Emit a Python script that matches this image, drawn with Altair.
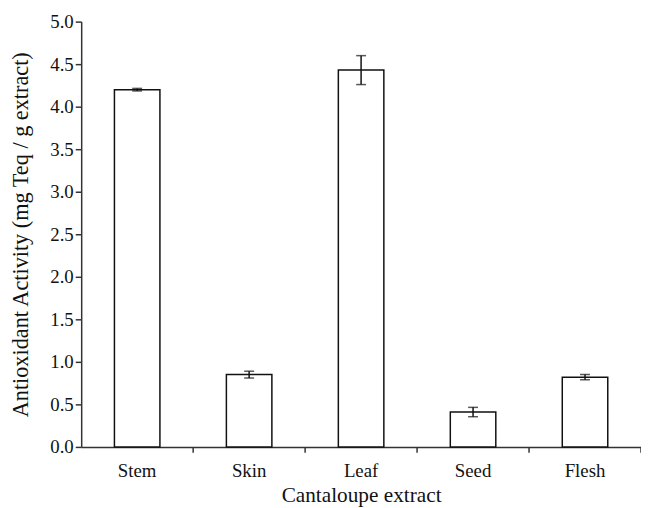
import altair as alt
import pandas as pd

categories = ["Stem", "Skin", "Leaf", "Seed", "Flesh"]
values = [4.20, 0.85, 4.43, 0.41, 0.82]
errors = [0.015, 0.04, 0.17, 0.055, 0.03]

df = pd.DataFrame({"cat": categories, "val": values, "err": errors})
df["lo"] = df["val"] - df["err"]
df["hi"] = df["val"] + df["err"]

FONT = "Liberation Serif"
xenc = alt.X("cat:N", sort=categories, title="Cantaloupe extract",
             scale=alt.Scale(paddingInner=0, paddingOuter=0),
             axis=alt.Axis(labelAngle=0, ticks=False, labelPadding=15, titlePadding=4,
                           titleFontSize=21.5))
yscale = alt.Scale(domain=[0, 5])

base = alt.Chart(df)

bars = base.mark_bar(size=46, fill="white", stroke="#111", strokeWidth=1.5).encode(
    x=xenc,
    y=alt.Y("val:Q", scale=yscale, title="Antioxidant Activity (mg Teq / g extract)",
            axis=alt.Axis(values=[0, 0.5, 1, 1.5, 2, 2.5, 3, 3.5, 4, 4.5, 5], format=".1f",
                          grid=False, tickSize=6, labelPadding=2, titlePadding=18,
                          titleFontSize=22.5)),
)

err_rule = base.mark_rule(color="#111", strokeWidth=1.5).encode(
    x=alt.X("cat:N", sort=categories),
    y=alt.Y("lo:Q", scale=yscale),
    y2="hi:Q",
)
cap_lo = base.mark_tick(color="#111", size=10, thickness=1.5, orient="horizontal").encode(
    x=alt.X("cat:N", sort=categories), y=alt.Y("lo:Q", scale=yscale))
cap_hi = base.mark_tick(color="#111", size=10, thickness=1.5, orient="horizontal").encode(
    x=alt.X("cat:N", sort=categories), y=alt.Y("hi:Q", scale=yscale))

xticks = base.mark_rule(color="#333", strokeWidth=1.5).encode(
    x=alt.X("cat:N", sort=categories, bandPosition=1),
    y=alt.value(430), y2=alt.value(436),
)

chart = alt.layer(bars, err_rule, cap_lo, cap_hi, xticks).properties(
    width=566, height=430,
    autosize=alt.AutoSizeParams(type="none"),
    padding={"left": 74, "top": 11, "right": 0, "bottom": 60},
).configure(font=FONT).configure_view(stroke=None).configure_axis(
    labelFont=FONT, titleFont=FONT, labelFontSize=19,
    titleFontWeight="normal", labelColor="#111", titleColor="#111",
    domainColor="#333", domainWidth=1.5, tickColor="#333", tickWidth=1.5, grid=False,
)

chart.save("out.html", embed_options={"renderer": "svg", "actions": False})
